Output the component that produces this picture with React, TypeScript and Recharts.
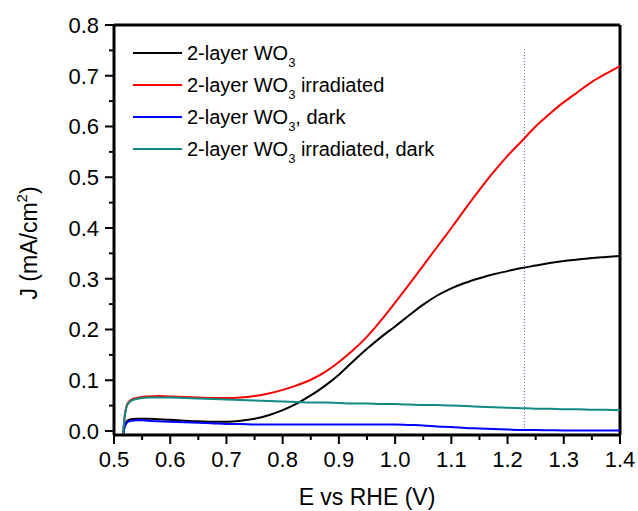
import React from 'react';
import { LineChart, Line, XAxis, YAxis, ReferenceLine, Legend, Label } from 'recharts';

const potential = [0.516, 0.519, 0.522, 0.526, 0.53, 0.54, 0.55, 0.56, 0.58, 0.6, 0.625, 0.65, 0.675, 0.7, 0.725, 0.75, 0.775, 0.8, 0.825, 0.85, 0.875, 0.9, 0.925, 0.95, 0.975, 1.0, 1.025, 1.05, 1.075, 1.1, 1.125, 1.15, 1.175, 1.2, 1.225, 1.25, 1.275, 1.3, 1.325, 1.35, 1.375, 1.4];

const wo3 = [-0.008, 0.010, 0.018, 0.022, 0.023, 0.024, 0.024, 0.024, 0.023, 0.022, 0.020, 0.019, 0.018, 0.018, 0.020, 0.024, 0.031, 0.041, 0.054, 0.070, 0.089, 0.111, 0.137, 0.162, 0.185, 0.206, 0.228, 0.249, 0.267, 0.281, 0.292, 0.301, 0.309, 0.315, 0.321, 0.326, 0.331, 0.335, 0.338, 0.341, 0.343, 0.345];

const wo3Irr = [-0.008, 0.030, 0.048, 0.057, 0.061, 0.065, 0.067, 0.068, 0.069, 0.068, 0.067, 0.066, 0.065, 0.065, 0.066, 0.069, 0.074, 0.081, 0.090, 0.101, 0.116, 0.136, 0.159, 0.186, 0.218, 0.253, 0.289, 0.326, 0.363, 0.400, 0.438, 0.475, 0.510, 0.542, 0.571, 0.600, 0.625, 0.648, 0.668, 0.688, 0.704, 0.719];

const wo3Dark = [-0.008, 0.008, 0.015, 0.019, 0.020, 0.021, 0.021, 0.020, 0.019, 0.018, 0.017, 0.016, 0.015, 0.014, 0.014, 0.013, 0.013, 0.013, 0.013, 0.013, 0.013, 0.013, 0.013, 0.013, 0.013, 0.013, 0.012, 0.011, 0.009, 0.008, 0.006, 0.005, 0.004, 0.003, 0.002, 0.002, 0.0015, 0.001, 0.001, 0.001, 0.001, 0.001];

const wo3IrrDark = [-0.008, 0.028, 0.046, 0.055, 0.059, 0.063, 0.065, 0.066, 0.066, 0.066, 0.065, 0.064, 0.063, 0.062, 0.061, 0.060, 0.059, 0.058, 0.057, 0.056, 0.056, 0.055, 0.054, 0.054, 0.053, 0.053, 0.052, 0.051, 0.051, 0.050, 0.049, 0.048, 0.047, 0.046, 0.045, 0.044, 0.044, 0.043, 0.043, 0.042, 0.042, 0.041];

const seriesKeys = ['wo3', 'wo3Irr', 'wo3Dark', 'wo3IrrDark'];
const seriesSuffix = ['', ' irradiated', ', dark', ' irradiated, dark'];
const seriesColors = ['#000000', '#ff0000', '#0000ff', '#128a82'];

const xTicks = [0.5, 0.55, 0.6, 0.65, 0.7, 0.75, 0.8, 0.85, 0.9, 0.95, 1.0, 1.05, 1.1, 1.15, 1.2, 1.25, 1.3, 1.35, 1.4];
const yTicks = [0, 0.05, 0.1, 0.15, 0.2, 0.25, 0.3, 0.35, 0.4, 0.45, 0.5, 0.55, 0.6, 0.65, 0.7, 0.75, 0.8];
const markerPotential = 1.23;
const markerTop = 0.757;

const data = potential.map((e, i) => ({
  E: e,
  wo3: wo3[i],
  wo3Irr: wo3Irr[i],
  wo3Dark: wo3Dark[i],
  wo3IrrDark: wo3IrrDark[i],
}));

const FONT = '"Liberation Sans", Arial, sans-serif';
const isMajor = (v: number) => Math.abs(v * 10 - Math.round(v * 10)) < 1e-6;

const YTick = (props: any) => {
  const { x, y, payload } = props;
  const v = payload.value as number;
  const major = isMajor(v);
  return (
    <g>
      <line x1={x} x2={x - (major ? 9 : 5)} y1={y} y2={y} stroke="#000" strokeWidth={2} />
      {major && (
        <text x={x - 15} y={y + 8} textAnchor="end" fontSize={22} fontFamily={FONT} fill="#000">
          {v.toFixed(1)}
        </text>
      )}
    </g>
  );
};

const XTick = (props: any) => {
  const { x, y, payload } = props;
  const v = payload.value as number;
  const major = isMajor(v);
  return (
    <g>
      <line x1={x} x2={x} y1={y} y2={y + (major ? 9 : 5)} stroke="#000" strokeWidth={2} />
      {major && (
        <text x={x} y={y + 32} textAnchor="middle" fontSize={22} fontFamily={FONT} fill="#000">
          {v.toFixed(1)}
        </text>
      )}
    </g>
  );
};

const LegendContent = () => (
  <div style={{ fontFamily: FONT, fontSize: 20, color: '#000' }}>
    {seriesKeys.map((k, i) => (
      <div key={k} style={{ display: 'flex', alignItems: 'center', height: 32, whiteSpace: 'nowrap' }}>
        <div style={{ width: 49, height: 2, background: seriesColors[i], marginRight: 5 }} />
        <span>
          2-layer WO
          <span style={{ fontSize: 13, position: 'relative', top: 7 }}>3</span>
          {seriesSuffix[i]}
        </span>
      </div>
    ))}
  </div>
);

export default function App() {
  return (
    <div style={{ position: 'absolute', left: 0, top: 0, background: '#fff' }}>
      <LineChart width={638} height={511} data={data} margin={{ top: 25, right: 18, left: 0, bottom: 0 }}>
        <XAxis
          dataKey="E"
          type="number"
          domain={[0.5, 1.4]}
          ticks={xTicks}
          interval={0}
          allowDataOverflow
          height={76}
          tickSize={0}
          tickMargin={0}
          tickLine={false}
          tick={<XTick />}
          axisLine={{ stroke: '#000', strokeWidth: 3 }}
        >
          <Label
            content={(p: any) => {
              const vb = p.viewBox;
              return (
                <text x={vb.x + vb.width / 2} y={vb.y + 70} textAnchor="middle" fontSize={23} fontFamily={FONT} fill="#000">
                  E vs RHE (V)
                </text>
              );
            }}
          />
        </XAxis>
        <YAxis
          type="number"
          domain={[-0.0079, 0.8]}
          ticks={yTicks}
          interval={0}
          allowDataOverflow
          width={114}
          tickSize={0}
          tickMargin={0}
          tickLine={false}
          tick={<YTick />}
          axisLine={{ stroke: '#000', strokeWidth: 3 }}
        >
          <Label
            content={() => (
              <text x={37} y={243} transform="rotate(-90, 37, 243)" textAnchor="middle" fontSize={23} fontFamily={FONT} fill="#000">
                J (mA/cm<tspan fontSize={15} dy={-10}>2</tspan><tspan dy={10}>)</tspan>
              </text>
            )}
          />
        </YAxis>
        <ReferenceLine y={0.8} stroke="#000" strokeWidth={3} />
        <ReferenceLine x={1.4} stroke="#000" strokeWidth={3} />
        <ReferenceLine
          segment={[{ x: markerPotential, y: 0 }, { x: markerPotential, y: markerTop }]}
          stroke="#6060ff"
          strokeWidth={1}
          strokeDasharray="1 2"
        />
        {seriesKeys.map((k, i) => (
          <Line
            key={k}
            dataKey={k}
            name={k}
            type="monotone"
            stroke={seriesColors[i]}
            strokeWidth={2}
            dot={false}
            isAnimationActive={false}
          />
        ))}
        <Legend
          layout="vertical"
          align="center"
          verticalAlign="middle"
          content={<LegendContent />}
          wrapperStyle={{ position: 'absolute', left: 133, top: 37, width: 'auto' }}
        />
      </LineChart>
    </div>
  );
}
